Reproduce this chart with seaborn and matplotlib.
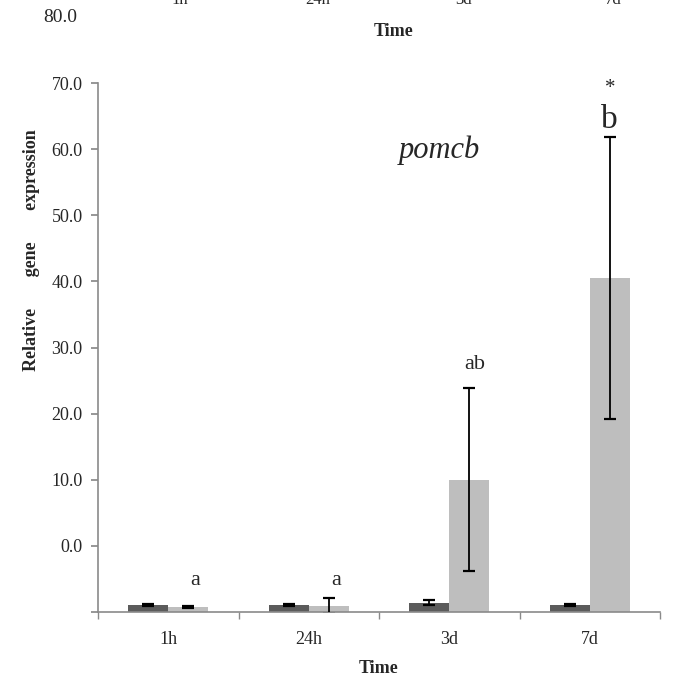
import matplotlib
matplotlib.use("Agg")
import matplotlib.pyplot as plt
import seaborn as sns
import pandas as pd
import numpy as np

# ---- data (axis units) ----
times = ["1h", "24h", "3d", "7d"]
groups = ["control", "treated"]
control_vals = [1.05, 1.05, 1.4, 1.05]
control_err = [0.12, 0.12, 0.4, 0.12]
treated_vals = [0.75, 0.9, 20.0, 50.5]
treated_err = [0.15, 1.2, 13.8, 21.3]
sig_labels = ["a", "a", "ab", "b"]
ytick_values = [0, 10, 20, 30, 40, 50, 60, 70, 80]
ytick_labels = ["", "0.0", "10.0", "20.0", "30.0", "40.0", "50.0", "60.0", "70.0"]
gene_name = "pomcb"

W, H = 693, 683
sns.set_theme(style="white")
plt.rcParams["font.family"] = ["Liberation Serif", "DejaVu Serif"]

df = pd.DataFrame({
    "Time": times * 2,
    "group": [groups[0]] * 4 + [groups[1]] * 4,
    "value": control_vals + treated_vals,
})

fig = plt.figure(figsize=(W / 100, H / 100), dpi=100)
ax = fig.add_axes([98 / W, (H - 612) / H, (660 - 98) / W, (612 - 83) / H])

sns.barplot(data=df, x="Time", y="value", hue="group", order=times,
            hue_order=groups, palette=["#5b5b5b", "#bebebe"], width=0.57,
            errorbar=None, legend=False, ax=ax, saturation=1, linewidth=0)

bar_containers = list(ax.containers)
errs = [control_err, treated_err]
vals = [control_vals, treated_vals]
for gi, cont in enumerate(bar_containers):
    xs = [p.get_x() + p.get_width() / 2 for p in cont.patches]
    ax.errorbar(xs, vals[gi], yerr=errs[gi], fmt="none", ecolor="black",
                elinewidth=1.3, capsize=4, capthick=1.6, zorder=5)

ax.set_ylim(0, 80)
ax.set_xlim(-0.5, 3.5)
ax.set_yticks(ytick_values)
ax.set_yticklabels(ytick_labels, fontsize=13)
ax.set_xticks(range(4))
ax.set_xticklabels(times, fontsize=13)
ax.set_xticks([-0.5, 0.5, 1.5, 2.5, 3.5], minor=True)
ax.tick_params(axis="x", which="major", length=0, pad=14)
ax.tick_params(axis="x", which="minor", length=5, color="#8a8a8a", direction="out", bottom=True)
ax.tick_params(axis="y", length=5, color="#8a8a8a", direction="out", left=True, pad=6)
for s in ["top", "right"]:
    ax.spines[s].set_visible(False)
for s in ["left", "bottom"]:
    ax.spines[s].set_color("#8a8a8a")
    ax.spines[s].set_linewidth(1.2)

ax.set_xlabel("Time", fontsize=13, fontweight="bold", labelpad=8)
ax.set_ylabel("Relative       gene       expression", fontsize=13, fontweight="bold")
ax.yaxis.set_label_coords(-0.104, 0.685)

# significance letters
treated_cont = bar_containers[1]
for i, p in enumerate(treated_cont.patches):
    xc = p.get_x() + p.get_width() / 2
    if i < 2:
        ax.text(xc + 0.05, 3.3, sig_labels[i], ha="center", va="bottom", fontsize=16)
    else:
        top = treated_vals[i] + treated_err[i]
        size = 24 if i == 3 else 16
        ax.text(xc + (0.04 if i == 2 else 0), top + (2.2 if i == 2 else 0.4),
                sig_labels[i], ha="center", va="bottom", fontsize=size)
p7 = treated_cont.patches[3]
ax.text(p7.get_x() + p7.get_width() / 2, 79.2, "*", ha="center", va="center",
        fontsize=15, clip_on=False)

ax.text(1.93, 69.8, gene_name, fontsize=22, style="italic", ha="center", va="center")

# remnants of previous panel at the top
for lab, xp in zip(times, [180, 318, 464, 613]):
    fig.text(xp / W, 1 - 0 / H, lab, ha="center", va="center", fontsize=12)
fig.text(60 / W, 1 - 17 / H, "80.0", ha="center", va="center", fontsize=14)
fig.text(394 / W, 1 - 31 / H, "Time", ha="center", va="center", fontsize=13, fontweight="bold")

fig.savefig("out.png", dpi=100)
